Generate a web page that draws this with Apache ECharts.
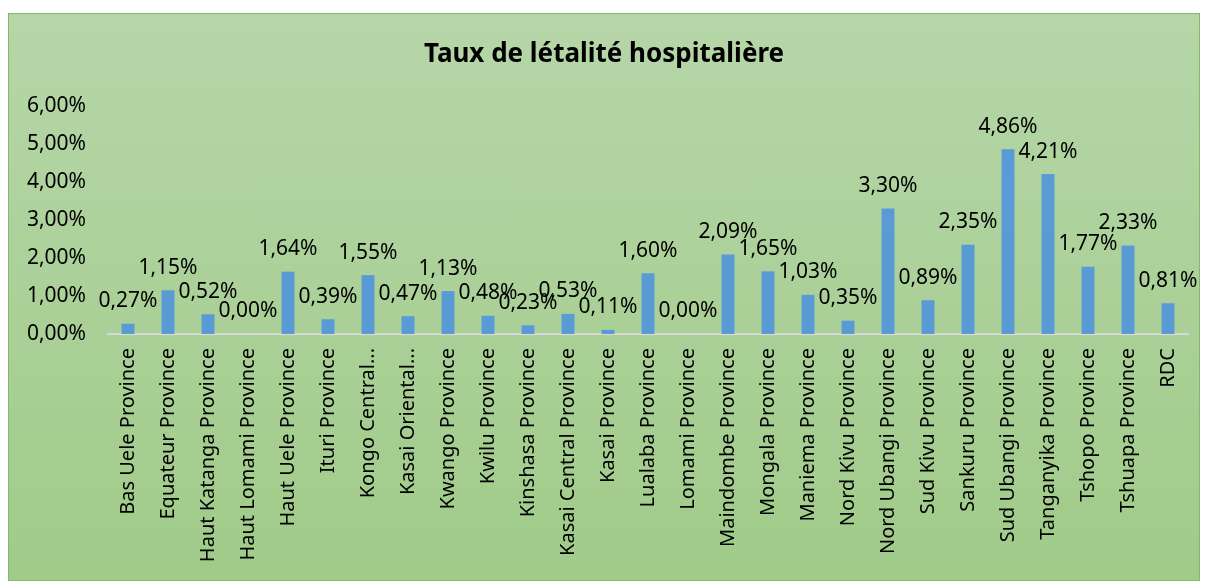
<!DOCTYPE html>
<html>
<head>
<meta charset="utf-8">
<script src="https://cdn.jsdelivr.net/npm/echarts@6/dist/echarts.min.js"></script>
<style>
  html, body { margin: 0; padding: 0; background: #ffffff; }
  .frame {
    position: absolute; left: 8px; top: 13px; width: 1190px; height: 566px;
    border: 1px solid #84b86a;
    background: linear-gradient(to bottom, #b6d6a8 0%, #a0cb89 100%);
  }
  #chart { position: absolute; left: 0; top: 0; width: 1208px; height: 586px; }
</style>
</head>
<body>
<div class="frame"></div>
<div id="chart"></div>
<script>
// provinces (libellés tels qu'affichés dans le graphique)
const provinces = [
  'Bas Uele Province', 'Equateur Province', 'Haut Katanga Province', 'Haut Lomami Province',
  'Haut Uele Province', 'Ituri Province', 'Kongo Central...', 'Kasai Oriental...',
  'Kwango Province', 'Kwilu Province', 'Kinshasa Province', 'Kasai Central Province',
  'Kasai Province', 'Lualaba Province', 'Lomami Province', 'Maindombe Province',
  'Mongala Province', 'Maniema Province', 'Nord Kivu Province', 'Nord Ubangi Province',
  'Sud Kivu Province', 'Sankuru Province', 'Sud Ubangi Province', 'Tanganyika Province',
  'Tshopo Province', 'Tshuapa Province', 'RDC'
]

// taux de létalité en %
const tauxLetalite = [
  0.27, 1.15, 0.52, 0.00, 1.64, 0.39, 1.55, 0.47, 1.13, 0.48, 0.23, 0.53, 0.11, 1.60,
  0.00, 2.09, 1.65, 1.03, 0.35, 3.30, 0.89, 2.35, 4.86, 4.21, 1.77, 2.33, 0.81
]

// graduations de l'axe Y
const yMin = 0
const yMax = 6
const yStep = 1

const fmtPct = (v) => Number(v).toFixed(2).replace('.', ',') + '%'

const chart = echarts.init(document.getElementById('chart'))

chart.setOption({
  backgroundColor: 'transparent',
  textStyle: { fontFamily: 'Noto Sans', color: '#000' },
  title: {
    text: 'Taux de létalité hospitalière',
    left: 'center',
    top: 37,
    textStyle: { fontSize: 26, fontWeight: 'bold', color: '#000', fontFamily: 'Noto Sans' }
  },
  grid: { left: 108, right: 20, top: 106, bottom: 252 },
  xAxis: {
    type: 'category',
    data: provinces,
    axisLine: { lineStyle: { color: '#d9d9d9', width: 2 } },
    axisTick: { show: false },
    axisLabel: {
      interval: 0,
      rotate: 90,
      margin: 14,
      fontSize: 20,
      color: '#000',
      fontFamily: 'Noto Sans'
    }
  },
  yAxis: {
    type: 'value',
    min: yMin,
    max: yMax,
    interval: yStep,
    axisLine: { show: false },
    axisTick: { show: false },
    splitLine: { show: false },
    axisLabel: {
      margin: 22,
      fontSize: 21,
      color: '#000',
      fontFamily: 'Noto Sans',
      formatter: fmtPct
    }
  },
  series: [
    {
      type: 'bar',
      data: tauxLetalite,
      barWidth: 13,
      itemStyle: { color: '#5b9bd5' },
      label: {
        show: true,
        position: 'top',
        distance: 12,
        fontSize: 21,
        color: '#000',
        fontFamily: 'Noto Sans',
        formatter: (p) => fmtPct(p.value)
      }
    }
  ]
})
</script>
</body>
</html>
